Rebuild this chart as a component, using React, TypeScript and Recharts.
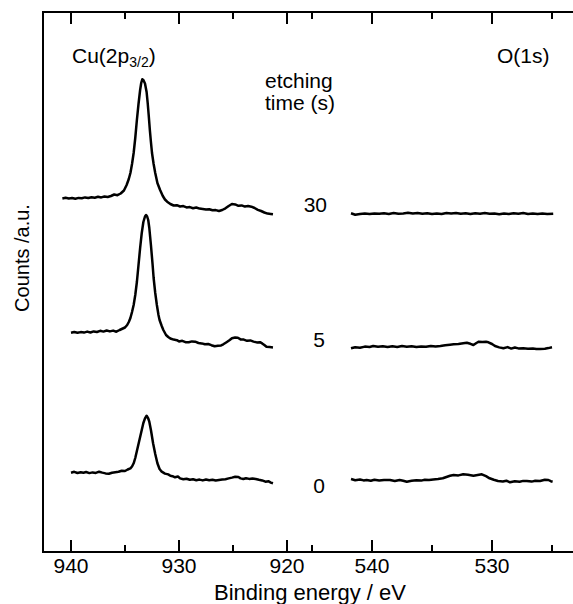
import React from 'react';
import { LineChart, Line, XAxis, YAxis, Customized } from 'recharts';

// ---- Data: [binding energy (eV), counts (a.u., including stacking offset)] ----
const cu30: [number, number][] = [
  [940.8, 353.5],[940.5, 354.2],[940.2, 353.6],[939.9, 354.0],[939.6, 353.3],[939.3, 354.1],[939.0, 353.8],[938.7, 354.6],[938.4, 354.0],[938.1, 354.8],[937.8, 354.3],[937.5, 355.2],[937.2, 354.6],[936.9, 355.5],[936.6, 355.0],[936.3, 356.0],[936.0, 357.5],[935.7, 356.8],[935.4, 358.5],[935.1, 361.5],[934.85, 367],[934.65, 373],[934.5, 379],[934.35, 388],[934.2, 399],[934.05, 414],[933.9, 432],[933.75, 448],[933.6, 462],[933.5, 469],[933.4, 472.7],[933.3, 472],[933.15, 468.5],[933.0, 460],[932.9, 449],[932.8, 436],[932.7, 422],[932.6, 410],[932.5, 399],[932.35, 388],[932.2, 379],[932.0, 369],[931.75, 362],[931.5, 356],[931.3, 352.5],[931.1, 350.3],[930.8, 348],[930.5, 346.5],[930.2, 346.8],[929.9, 345.5],[929.6, 345.9],[929.3, 344.6],[929.0, 344.9],[928.7, 343.8],[928.4, 344.5],[928.1, 343.4],[927.8, 343.0],[927.5, 342.4],[927.2, 342.8],[926.9, 341.7],[926.6, 341.9],[926.3, 341.0],[926.0, 342.0],[925.7, 343.7],[925.4, 346.0],[925.1, 348.0],[924.8, 347.6],[924.5, 346.2],[924.2, 346.6],[923.9, 345.4],[923.6, 345.9],[923.3, 345.3],[923.0, 344.0],[922.7, 342.2],[922.4, 341.0],[922.1, 339.5],[921.8, 338.4],[921.5, 338.0],[921.3, 337.7]
];

const cu5: [number, number][] = [
  [940.0, 219.3],[939.7, 220.0],[939.4, 219.2],[939.1, 219.9],[938.8, 219.4],[938.5, 220.4],[938.2, 219.5],[937.9, 220.6],[937.6, 220.0],[937.3, 221.2],[937.0, 220.4],[936.7, 221.5],[936.4, 220.6],[936.1, 221.4],[935.8, 220.3],[935.5, 222.0],[935.2, 223.5],[935.0, 224.5],[934.8, 227],[934.65, 230],[934.5, 234],[934.35, 240],[934.2, 247],[934.05, 257],[933.9, 270],[933.75, 287],[933.6, 304],[933.45, 319],[933.3, 330],[933.15, 335.5],[933.05, 337],[932.95, 335.5],[932.85, 332],[932.75, 324],[932.6, 307],[932.45, 288],[932.35, 274],[932.2, 259],[932.05, 247],[931.9, 237],[931.8, 232],[931.6, 226],[931.45, 222],[931.2, 217],[931.0, 215],[930.8, 213.5],[930.5, 212.4],[930.2, 211.8],[930.0, 210.6],[929.7, 211.2],[929.4, 209.8],[929.1, 209.7],[928.8, 210.6],[928.5, 210.3],[928.2, 209.0],[927.9, 208.6],[927.6, 207.7],[927.3, 208.0],[927.0, 206.8],[926.7, 205.7],[926.4, 206.2],[926.1, 206.6],[925.9, 207.7],[925.6, 209.8],[925.3, 212.0],[925.1, 213.7],[924.8, 214.5],[924.55, 214.3],[924.3, 212.6],[924.0, 212.4],[923.7, 211.2],[923.4, 211.6],[923.1, 210.4],[922.8, 209.6],[922.5, 209.8],[922.3, 208.6],[922.1, 207.0],[921.9, 205.2],[921.6, 205.0],[921.3, 204.6]
];

const cu0: [number, number][] = [
  [940.0, 79.3],[939.7, 80.2],[939.4, 79.0],[939.1, 79.8],[938.85, 79.3],[938.6, 80.0],[938.3, 78.9],[938.0, 79.6],[937.7, 79.1],[937.4, 80.3],[937.1, 79.4],[936.8, 78.6],[936.5, 78.2],[936.2, 79.3],[935.9, 79.8],[935.6, 80.2],[935.3, 81.3],[935.0, 81.0],[934.75, 82.5],[934.5, 83.7],[934.35, 85.5],[934.2, 88.7],[934.05, 94],[933.9, 101],[933.75, 108],[933.6, 115],[933.45, 122],[933.3, 129],[933.15, 133.7],[933.0, 136.3],[932.85, 133.5],[932.75, 130.3],[932.6, 122],[932.4, 108.7],[932.2, 98],[932.0, 88.7],[931.8, 83],[931.6, 80.3],[931.3, 78.4],[931.0, 77.6],[930.8, 76.2],[930.6, 75.8],[930.37, 74.7],[930.1, 75.5],[929.9, 73.6],[929.6, 72.7],[929.3, 73.3],[929.0, 72.2],[928.7, 72.8],[928.4, 71.8],[928.1, 72.4],[927.8, 71.6],[927.5, 72.5],[927.2, 71.8],[926.9, 72.3],[926.6, 71.5],[926.3, 72.0],[926.0, 72.4],[925.7, 72.8],[925.4, 73.6],[925.1, 74.4],[924.8, 75.3],[924.5, 75.0],[924.3, 73.6],[924.05, 73.0],[923.8, 73.8],[923.5, 73.1],[923.2, 73.6],[922.9, 73.0],[922.6, 72.2],[922.3, 71.6],[922.0, 70.3],[921.7, 70.8],[921.5, 69.4],[921.3, 68.7]
];

const o30: [number, number][] = [
  [541.75, 338.7],[541.4, 337.2],[541.0, 338.0],[540.6, 338.4],[540.2, 337.9],[539.8, 338.5],[539.4, 338.2],[539.0, 338.7],[538.6, 338.1],[538.2, 338.9],[537.8, 338.3],[537.4, 338.6],[537.0, 339.2],[536.6, 338.4],[536.2, 339.0],[535.8, 338.2],[535.4, 338.8],[535.0, 337.9],[534.6, 338.6],[534.2, 338.1],[533.8, 338.9],[533.4, 338.4],[533.0, 339.1],[532.6, 338.3],[532.2, 338.8],[531.8, 338.0],[531.4, 338.7],[531.0, 338.2],[530.6, 338.9],[530.2, 338.3],[529.8, 338.5],[529.4, 337.8],[529.0, 338.6],[528.6, 338.0],[528.2, 338.7],[527.8, 338.2],[527.4, 338.9],[527.0, 338.1],[526.6, 338.5],[526.2, 337.9],[525.8, 338.4],[525.4, 338.0],[524.9, 338.3]
];

const o5: [number, number][] = [
  [541.75, 203.7],[541.4, 204.8],[541.0, 204.3],[540.6, 205.4],[540.2, 205.0],[539.9, 206.0],[539.5, 205.2],[539.1, 205.8],[538.7, 205.0],[538.3, 205.7],[537.9, 205.1],[537.5, 205.9],[537.1, 205.3],[536.7, 205.8],[536.3, 205.0],[535.9, 205.6],[535.5, 205.2],[535.1, 206.1],[534.7, 205.4],[534.3, 206.0],[533.9, 206.8],[533.5, 207.3],[533.2, 207.7],[532.8, 208.0],[532.4, 208.8],[532.1, 209.3],[531.8, 208.2],[531.55, 207.0],[531.3, 209.0],[531.1, 210.3],[530.8, 210.0],[530.5, 210.2],[530.3, 209.7],[530.0, 208.0],[529.75, 206.0],[529.4, 204.6],[529.05, 203.7],[528.7, 204.9],[528.4, 203.4],[528.1, 204.5],[527.8, 203.6],[527.4, 203.7],[527.0, 203.2],[526.6, 203.5],[526.3, 202.9],[526.0, 203.0],[525.6, 203.3],[525.3, 203.9],[525.0, 204.7]
];

const o0: [number, number][] = [
  [541.75, 73.0],[541.4, 71.8],[541.0, 72.5],[540.7, 71.6],[540.45, 72.0],[540.1, 71.2],[539.8, 72.3],[539.4, 71.5],[539.0, 72.1],[538.5, 72.0],[538.1, 71.0],[537.7, 72.0],[537.4, 71.3],[537.1, 70.3],[536.7, 71.2],[536.3, 71.8],[535.9, 71.4],[535.6, 72.2],[535.25, 72.0],[534.9, 72.5],[534.5, 73.0],[534.1, 73.7],[533.8, 75.0],[533.5, 76.2],[533.2, 77.0],[532.8, 76.6],[532.4, 77.7],[532.0, 77.2],[531.55, 76.3],[531.2, 77.0],[530.85, 77.7],[530.5, 75.8],[530.2, 73.7],[529.85, 72.2],[529.5, 71.0],[529.1, 70.6],[528.8, 71.3],[528.5, 69.7],[528.1, 70.8],[527.7, 70.2],[527.4, 71.1],[527.1, 71.0],[526.7, 70.4],[526.4, 71.2],[526.0, 71.0],[525.6, 72.3],[525.3, 72.0],[525.1, 70.8],[524.95, 70.3]
];

const majorTicksEv = [940, 930, 920, 540, 530];
const minorTicksEv = [935, 925, 545, 535, 525];
const etchingTimes = ['30', '5', '0'];

// ---- Broken-axis mapping (Cu region and O region share one numeric axis) ----
const CU_ORIGIN = 940;
const O_ORIGIN = 540;
const O_OFFSET = 27.87;
const O_STRETCH = 12 / 10.8;
const X_DOMAIN: [number, number] = [-2.593, 46.48];
const Y_DOMAIN: [number, number] = [0, 540];

const CHART_W = 573;
const CHART_H = 604;
const MARGIN = { top: 12, right: 0, bottom: 12, left: 43 };
const X_AXIS_H = 40;
const MAJOR_LEN = 12;
const MINOR_LEN = 7;

const toU = (ev: number) => (ev > 700 ? CU_ORIGIN - ev : O_OFFSET + (O_ORIGIN - ev) * O_STRETCH);
const toSeries = (pairs: [number, number][]) => pairs.map(([ev, v]) => ({ u: toU(ev), v }));

const series = [cu30, cu5, cu0, o30, o5, o0].map(toSeries);
const majorU = majorTicksEv.map(toU);
const minorU = minorTicksEv.map(toU);

const FONT = '"Liberation Sans", Arial, Helvetica, sans-serif';

// plot box (same geometry Recharts uses from width/height/margin/axis height)
const PLOT_L = MARGIN.left;
const PLOT_R = CHART_W - MARGIN.right;
const PLOT_T = MARGIN.top;
const PLOT_B = CHART_H - MARGIN.bottom - X_AXIS_H;
const xPx = (u: number) => PLOT_L + ((u - X_DOMAIN[0]) / (X_DOMAIN[1] - X_DOMAIN[0])) * (PLOT_R - PLOT_L);

const BottomTick = (props: any) => {
  const { x, y, payload } = props;
  const i = majorU.findIndex((m) => Math.abs(m - payload.value) < 1e-6);
  if (i < 0) return <g />;
  return (
    <text x={x} y={y + 21} textAnchor="middle" fontSize={21} fontFamily={FONT} fill="#000">
      {String(majorTicksEv[i])}
    </text>
  );
};

const Frame = () => {
  const ticks = [
    ...majorU.map((u) => ({ x: xPx(u), len: MAJOR_LEN })),
    ...minorU.map((u) => ({ x: xPx(u), len: MINOR_LEN })),
  ];
  return (
    <g stroke="#000" strokeWidth={2} fill="none">
      <line x1={PLOT_L} x2={PLOT_R} y1={PLOT_T} y2={PLOT_T} />
      <line x1={PLOT_L} x2={PLOT_L} y1={PLOT_T - 1} y2={PLOT_B + 1} />
      {ticks.map((t, i) => (
        <g key={i}>
          <line x1={t.x} x2={t.x} y1={PLOT_B} y2={PLOT_B - t.len} />
          <line x1={t.x} x2={t.x} y1={PLOT_T} y2={PLOT_T + t.len} />
        </g>
      ))}
    </g>
  );
};

const Annotations = () => (
  <g fontFamily={FONT} fill="#000">
    <text x={72} y={63} fontSize={21}>
      Cu(2p<tspan fontSize={14} dy={4}>3/2</tspan><tspan dy={-4}>)</tspan>
    </text>
    <text x={497} y={63} fontSize={21}>O(1s)</text>
    <text x={265} y={88} fontSize={21}>etching</text>
    <text x={265} y={110} fontSize={21}>time (s)</text>
    <text x={327} y={212} fontSize={21} textAnchor="end">{etchingTimes[0]}</text>
    <text x={325} y={347} fontSize={21} textAnchor="end">{etchingTimes[1]}</text>
    <text x={325} y={493} fontSize={21} textAnchor="end">{etchingTimes[2]}</text>
    <text x={310} y={600} fontSize={22} textAnchor="middle">Binding energy / eV</text>
    <text x={29} y={258} fontSize={20} textAnchor="middle" transform="rotate(-90 29 258)">Counts /a.u.</text>
  </g>
);

export default function App() {
  return (
    <div style={{ position: 'absolute', left: 0, top: 0, background: '#fff' }}>
      <LineChart width={CHART_W} height={CHART_H} margin={MARGIN}>
        <XAxis
          dataKey="u"
          type="number"
          domain={X_DOMAIN}
          allowDataOverflow
          ticks={majorU}
          interval={0}
          height={X_AXIS_H}
          tickSize={0}
          tickMargin={0}
          tickLine={false}
          tick={<BottomTick />}
          axisLine={{ stroke: '#000', strokeWidth: 2 }}
        />
        <YAxis type="number" domain={Y_DOMAIN} allowDataOverflow hide />
        {series.map((d, i) => (
          <Line
            key={i}
            data={d}
            dataKey="v"
            type="linear"
            dot={false}
            stroke="#000"
            strokeWidth={2.5}
            strokeLinejoin="round"
            isAnimationActive={false}
          />
        ))}
        <Customized component={Frame} />
        <Customized component={Annotations} />
      </LineChart>
    </div>
  );
}
